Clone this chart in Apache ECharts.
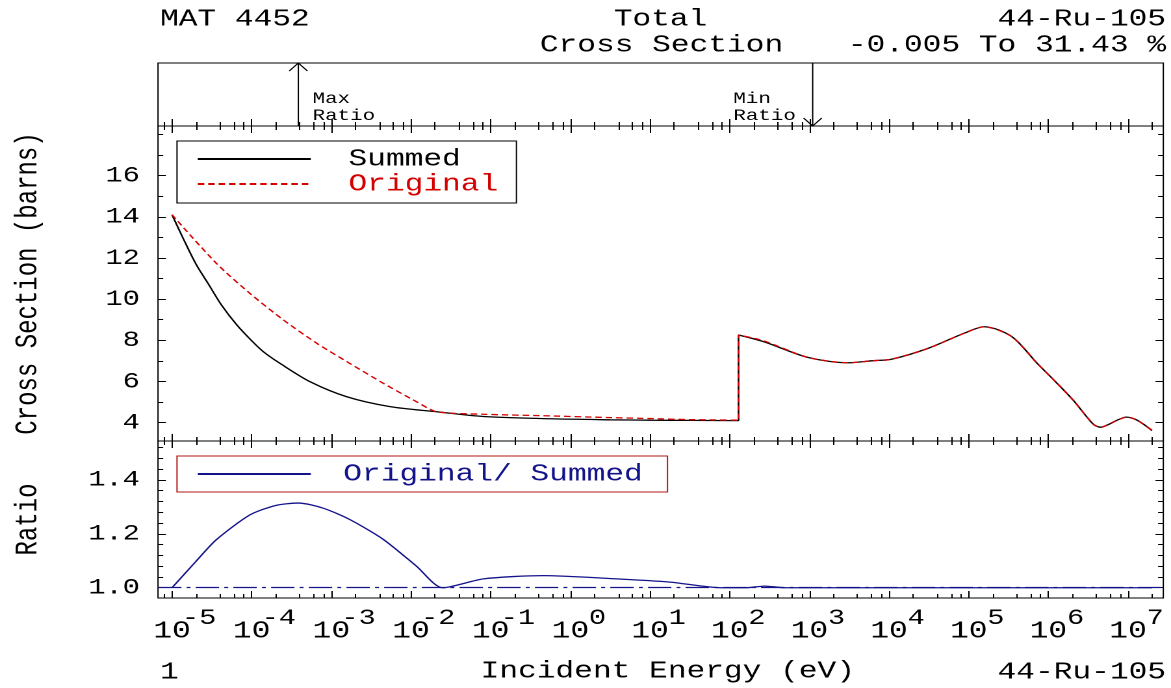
<!DOCTYPE html>
<html>
<head>
<meta charset="utf-8">
<script src="https://cdn.jsdelivr.net/npm/echarts@6/dist/echarts.min.js"></script>
<style>
html, body { margin: 0; padding: 0; background: #fff; overflow: hidden; }
/* the original plot is stretched ~1.3x sideways, so draw narrow and stretch the div */
#main { width: 901px; height: 688px; transform: scaleX(1.29967); transform-origin: 0 0; }
</style>
</head>
<body>
<div id="main"></div>
<script>
var SX = 1171 / 901;
function px(x) { return x / SX; }

var FONT = 'Liberation Mono';
var RED = '#d40000';
var NAVY = '#14148a';

// incident energy (eV) / cross section (barns)
var summedE = [1e-5, 1.4e-5, 2e-5, 2.9e-5, 4.2e-5, 6.5e-5, 1e-4, 1.4e-4, 2.27e-4, 5.4e-4,
    1.56e-3, 5.45e-3, 2.1e-2, 8.1e-2, 0.556, 3.16, 10, 31.6, 129, 129,
    269, 955, 3020, 6310, 1.07e4, 3.09e4, 8.71e4, 1.57e5, 3.47e5, 7.24e5,
    1.23e6, 2.04e6, 3.16e6, 3.8e6, 4.57e6, 5.6e6, 7.6e6, 9.55e6, 1.3e7, 2e7];
var summedXS = [14.1, 12.9, 11.7, 10.7, 9.7, 8.75, 7.98, 7.45, 6.88, 5.99,
    5.26, 4.78, 4.53, 4.3, 4.19, 4.14, 4.12, 4.11, 4.1, 8.26,
    7.93, 7.17, 6.91, 7.01, 7.08, 7.61, 8.34, 8.66, 8.18, 6.88,
    5.99, 5.1, 4.2, 3.88, 3.78, 3.9, 4.15, 4.27, 4.12, 3.62];

var originalE = [1e-5, 3.6e-5, 9.5e-5, 2.5e-4, 6.6e-4, 1.7e-3, 4.5e-3, 1.17e-2, 2.1e-2, 8.1e-2,
    0.556, 2.34, 10, 31.6, 129, 129, 269, 955, 3020, 6310,
    1.07e4, 3.09e4, 8.71e4, 1.57e5, 3.47e5, 7.24e5, 1.23e6, 2.04e6, 3.16e6, 3.8e6,
    4.57e6, 5.6e6, 7.6e6, 9.55e6, 1.3e7, 2e7];
var originalXS = [14.1, 11.74, 10.28, 8.99, 7.85, 6.88, 5.91, 5.02, 4.53, 4.41,
    4.33, 4.26, 4.2, 4.15, 4.12, 8.26, 7.97, 7.17, 6.91, 7.01,
    7.08, 7.61, 8.34, 8.66, 8.18, 6.88, 5.99, 5.1, 4.2, 3.88,
    3.78, 3.9, 4.15, 4.27, 4.12, 3.62];

var ratioE = [1e-5, 2e-5, 3.6e-5, 9.5e-5, 2e-4, 3.9e-4, 7.9e-4, 1.7e-3, 4.5e-3, 1.17e-2,
    2.5e-2, 8.1e-2, 0.457, 3.8, 17.8, 77.6, 158, 275, 500, 1000, 2e7];
var ratioV = [1.0, 1.098, 1.178, 1.27, 1.305, 1.314, 1.295, 1.253, 1.179, 1.08,
    1.0, 1.033, 1.045, 1.033, 1.021, 1.0, 1.0, 1.006, 1.0, 1.0, 1.0];

// max / min ratio markers in the top strip
var arrowE = [3.85e-4, 1.1e3];
var arrowDir = [1, -1];
var arrowText = ['Max\nRatio', 'Min\nRatio'];

// ticks
var xDecades = [-5, -4, -3, -2, -1, 0, 1, 2, 3, 4, 5, 6, 7];
var xMinorMant = [2, 4, 6, 8];
var csTicks = [4, 6, 8, 10, 12, 14, 16];
var csMinor = [4, 5, 6, 7, 8, 9, 10, 11, 12, 13, 14, 15, 16, 17, 18];
var ratioTicks = [1.0, 1.2, 1.4];
var ratioMinor = [1.0, 1.04, 1.08, 1.12, 1.16, 1.2, 1.24, 1.28, 1.32, 1.36, 1.4, 1.44, 1.48, 1.52];

var X_MIN = 6.67e-6, X_MAX = 2.77e7;

var xMajor = xDecades.map(function (k) { return Math.pow(10, k); });
var xMinor = [];
for (var k = -6; k <= 7; k++) {
    xMinorMant.forEach(function (m) {
        var v = m * Math.pow(10, k);
        if (v > X_MIN && v < X_MAX) xMinor.push(v);
    });
}

function pairs(xs, ys) {
    return xs.map(function (x, i) { return [x, ys[i]]; });
}

function xAx(grid, pos, ticks, len, labels) {
    var ax = {
        type: 'log', logBase: 10, gridIndex: grid, position: pos,
        min: X_MIN, max: X_MAX,
        axisLine: { show: false, onZero: false },
        splitLine: { show: false },
        axisTick: { show: true, inside: true, length: len, customValues: ticks,
            lineStyle: { color: '#000', width: 1 } },
        axisLabel: { show: false }
    };
    if (labels) {
        // p and s are kept narrow so the label boxes do not overlap;
        // the exponent just spills out of its box to the right
        ax.axisLabel = {
            show: true, customValues: ticks, margin: 21,
            showMinLabel: true, showMaxLabel: true, hideOverlap: false,
            formatter: function (v) {
                return '{p| }{b|10}{s|' + Math.round(Math.log10(v)) + '}';
            },
            rich: {
                p: { width: 13 },
                b: { fontFamily: FONT, fontSize: 24, lineHeight: 24, color: '#000' },
                s: { fontFamily: FONT, fontSize: 22, lineHeight: 22, color: '#000', width: 13, align: 'left',
                    padding: [0, 0, 26, 0] }
            }
        };
        ax.name = 'Incident Energy (eV)';
        ax.nameLocation = 'middle';
        ax.nameGap = 61;
        ax.nameTextStyle = { fontFamily: FONT, fontSize: 24, color: '#000', padding: [0, 0, 0, 11] };
    }
    return ax;
}

function yAx(grid, pos, min, max, ticks, len, labels, name, fmt) {
    var ax = {
        type: 'value', gridIndex: grid, position: pos, min: min, max: max,
        axisLine: { show: false, onZero: false },
        splitLine: { show: false },
        axisTick: { show: true, inside: true, length: len, customValues: ticks,
            lineStyle: { color: '#000', width: 1 } },
        axisLabel: { show: false }
    };
    if (labels) {
        ax.axisLabel = {
            show: true, customValues: ticks, margin: 14, padding: [0, 0, 12, 0],
            fontFamily: FONT, fontSize: 22, color: '#000',
            formatter: fmt
        };
        ax.name = name;
        ax.nameLocation = 'middle';
        ax.nameRotate = 90;
        ax.nameGap = 88;
        ax.nameTextStyle = { fontFamily: FONT, fontSize: 24, color: '#000' };
    }
    return ax;
}

var gridLeft = px(158), gridRight = 901 - px(1163.3);
var boxStyle = { show: true, borderColor: '#000', borderWidth: 1, left: gridLeft, right: gridRight };

var myChart = echarts.init(document.getElementById('main'), null, { devicePixelRatio: 2 });

function txt(s, x, y, align) {
    return {
        type: 'text', x: px(x), y: y, silent: true,
        style: { text: s, font: '24px "' + FONT + '"', fill: '#000',
            align: align, verticalAlign: 'middle', textAlign: align, textVerticalAlign: 'middle' }
    };
}

option = {
    animation: false,
    backgroundColor: '#fff',
    grid: [
        Object.assign({ top: 63, height: 63 }, boxStyle),
        Object.assign({ top: 126, height: 315 }, boxStyle),
        Object.assign({ top: 441, height: 157 }, boxStyle)
    ],
    xAxis: [
        xAx(0, 'bottom', xMajor, 7),
        xAx(0, 'bottom', xMinor, 4),
        xAx(1, 'top', xMajor, 7),
        xAx(1, 'top', xMinor, 4),
        xAx(1, 'bottom', xMajor, 7),
        xAx(1, 'bottom', xMinor, 4),
        xAx(2, 'top', xMajor, 7),
        xAx(2, 'top', xMinor, 4),
        xAx(2, 'bottom', xMajor, 7, true),
        xAx(2, 'bottom', xMinor, 4)
    ],
    yAxis: [
        { type: 'value', gridIndex: 0, min: 0, max: 1, show: false },
        yAx(1, 'left', 3.11, 18.41, csTicks, 6, true, 'Cross Section (barns)', function (v) { return String(v); }),
        yAx(1, 'left', 3.11, 18.41, csMinor, 4),
        yAx(1, 'right', 3.11, 18.41, csTicks, 6),
        yAx(1, 'right', 3.11, 18.41, csMinor, 4),
        yAx(2, 'left', 0.962, 1.544, ratioTicks, 6, true, 'Ratio', function (v) { return v.toFixed(1); }),
        yAx(2, 'left', 0.962, 1.544, ratioMinor, 4),
        yAx(2, 'right', 0.962, 1.544, ratioTicks, 6),
        yAx(2, 'right', 0.962, 1.544, ratioMinor, 4)
    ],
    legend: [{
        data: [{ name: 'Summed', textStyle: { color: '#000' } },
               { name: 'Original', textStyle: { color: RED } }],
        orient: 'vertical', left: px(177), top: 141,
        padding: [6, 14, 7, 15], itemGap: 1,
        itemWidth: px(113), itemHeight: 14,
        itemStyle: { opacity: 0 },
        borderColor: '#000', borderWidth: 1, selectedMode: false,
        textStyle: { fontFamily: FONT, fontSize: 24, lineHeight: 24, padding: [0, 0, 0, 24] }
    }, {
        data: [{ name: 'Original/ Summed', textStyle: { color: NAVY } }],
        orient: 'vertical', left: px(177), top: 456,
        padding: [6, 19, 6, 15],
        itemWidth: px(113), itemHeight: 14,
        itemStyle: { opacity: 0 },
        borderColor: '#b01818', borderWidth: 1, selectedMode: false,
        textStyle: { fontFamily: FONT, fontSize: 24, lineHeight: 24, padding: [0, 0, 0, 20] }
    }],
    graphic: [
        txt('MAT 4452', 160, 19, 'left'),
        txt('Total', 660.5, 19, 'center'),
        txt('Cross Section', 661.5, 45, 'center'),
        txt('44-Ru-105', 1166, 19, 'right'),
        txt('-0.005 To 31.43 %', 1166, 45, 'right'),
        txt('1', 160, 672, 'left'),
        txt('44-Ru-105', 1166, 672, 'right')
    ],
    series: [{
        type: 'custom',
        xAxisIndex: 0, yAxisIndex: 0,
        silent: true,
        data: arrowE.map(function (e, i) { return [e, arrowDir[i], i]; }),
        renderItem: function (params, api) {
            var e = api.value(0), dir = api.value(1), idx = api.value(2);
            var bot = api.coord([e, 0]), top = api.coord([e, 1]);
            var x = bot[0];
            var tip = dir > 0 ? top[1] : bot[1];
            var back = tip + dir * 8;
            var tx = dir > 0 ? x + 11 : x - 61;
            return {
                type: 'group',
                children: [{
                    type: 'line',
                    shape: { x1: x, y1: top[1], x2: x, y2: bot[1] },
                    style: { stroke: '#000', lineWidth: 1 }
                }, {
                    type: 'polyline',
                    shape: { points: [[x - 7, back], [x, tip], [x + 7, back]] },
                    style: { stroke: '#000', fill: null, lineWidth: 1 }
                }, {
                    type: 'text',
                    x: tx, y: bot[1] - 1.5,
                    style: { text: arrowText[idx], font: '16px "' + FONT + '"', fill: '#000',
                        lineHeight: 17, align: 'left', verticalAlign: 'bottom',
                        textAlign: 'left', textVerticalAlign: 'bottom' }
                }]
            };
        }
    }, {
        name: 'Summed',
        type: 'line',
        xAxisIndex: 4, yAxisIndex: 1,
        data: pairs(summedE, summedXS),
        symbol: 'none',
        smooth: 0.3,
        lineStyle: { color: '#000', width: 1.3 },
        itemStyle: { color: '#000' },
        z: 2
    }, {
        name: 'Original',
        type: 'line',
        xAxisIndex: 4, yAxisIndex: 1,
        data: pairs(originalE, originalXS),
        symbol: 'none',
        smooth: 0.25,
        lineStyle: { color: RED, width: 1.3, type: [5, 3] },
        itemStyle: { color: RED },
        z: 3
    }, {
        name: 'Original/ Summed',
        type: 'line',
        xAxisIndex: 8, yAxisIndex: 5,
        data: pairs(ratioE, ratioV),
        symbol: 'none',
        smooth: 0.25,
        lineStyle: { color: NAVY, width: 1.3 },
        itemStyle: { color: NAVY },
        markLine: {
            silent: true, symbol: 'none', label: { show: false },
            lineStyle: { color: NAVY, width: 1.3, type: [18, 4, 3, 4] },
            data: [{ yAxis: 1 }]
        },
        z: 3
    }]
};

myChart.setOption(option);
</script>
</body>
</html>
